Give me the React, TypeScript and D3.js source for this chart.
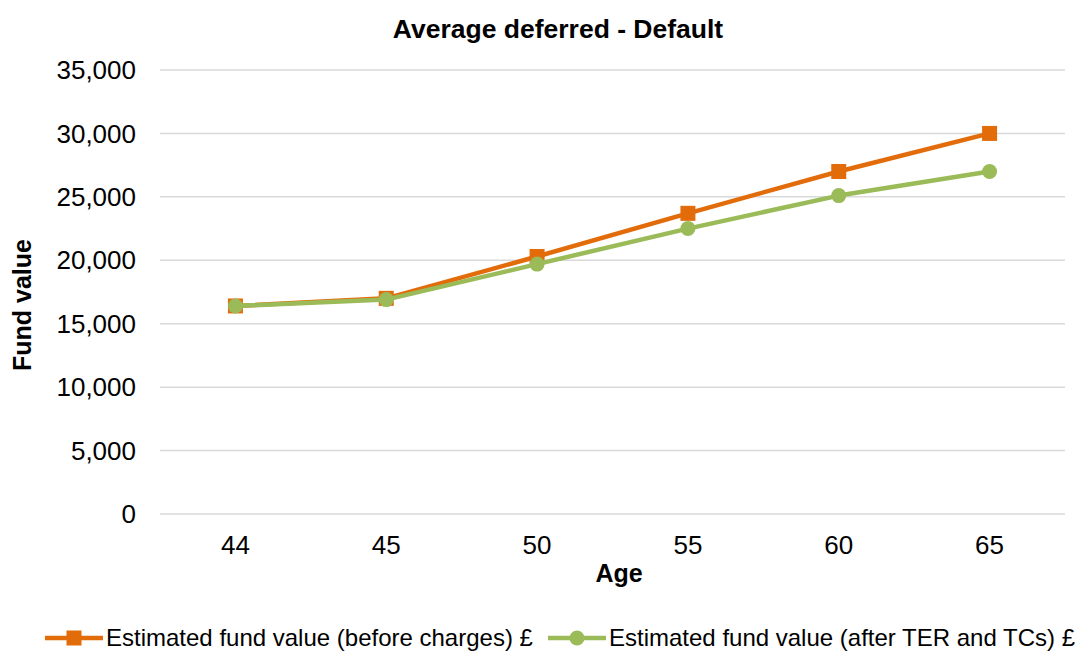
import { useEffect, useRef } from "react";
import * as d3 from "d3";

const ages = ["44", "45", "50", "55", "60", "65"];
const beforeCharges = [16400, 17000, 20300, 23700, 27000, 30000];
const afterCharges = [16400, 16900, 19700, 22500, 25100, 27000];
const yTicks = [0, 5000, 10000, 15000, 20000, 25000, 30000, 35000];

const series = [
  { name: "Estimated fund value (before charges) £", values: beforeCharges, color: "#E36C0A", marker: "square" },
  { name: "Estimated fund value (after TER and TCs) £", values: afterCharges, color: "#9BBB59", marker: "circle" },
];

export default function App() {
  const ref = useRef<SVGSVGElement>(null);

  useEffect(() => {
    const width = 1076;
    const height = 652;
    const m = { left: 160, right: 11, top: 70, bottom: 138 };

    const svg = d3.select(ref.current).attr("width", width).attr("height", height);
    svg.selectAll("*").remove();
    svg.style("font-family", "'Liberation Sans', Arial, sans-serif");

    const x = d3.scaleBand().domain(ages).range([m.left, width - m.right]);
    const y = d3.scaleLinear().domain([0, 35000]).range([height - m.bottom, m.top]);

    // gridlines
    svg
      .append("g")
      .selectAll("line")
      .data(yTicks)
      .join("line")
      .attr("x1", m.left)
      .attr("x2", width - m.right)
      .attr("y1", d => y(d))
      .attr("y2", d => y(d))
      .attr("stroke", "#d9d9d9")
      .attr("stroke-width", 1.5);

    // y labels
    svg
      .append("g")
      .selectAll("text")
      .data(yTicks)
      .join("text")
      .attr("x", 136)
      .attr("y", d => y(d))
      .attr("dy", "0.35em")
      .attr("text-anchor", "end")
      .style("font-size", "26px")
      .attr("fill", "#000")
      .text(d => d3.format(",")(d));

    // x labels
    svg
      .append("g")
      .selectAll("text")
      .data(ages)
      .join("text")
      .attr("x", d => x(d)! + x.bandwidth() / 2)
      .attr("y", 554)
      .attr("text-anchor", "middle")
      .style("font-size", "26px")
      .text(d => d);

    svg
      .append("text")
      .attr("x", 558)
      .attr("y", 38)
      .attr("text-anchor", "middle")
      .style("font-size", "26.5px")
      .style("font-weight", "bold")
      .text("Average deferred - Default");

    svg
      .append("text")
      .attr("x", 619)
      .attr("y", 582)
      .attr("text-anchor", "middle")
      .style("font-size", "25px")
      .style("font-weight", "bold")
      .text("Age");

    svg
      .append("text")
      .attr("transform", "translate(31,305) rotate(-90)")
      .attr("text-anchor", "middle")
      .style("font-size", "25px")
      .style("font-weight", "bold")
      .text("Fund value");

    const line = d3
      .line<number>()
      .x((_, i) => x(ages[i])! + x.bandwidth() / 2)
      .y(d => y(d));

    const drawMarker = (g: any, kind: string, color: string, cx: number, cy: number) => {
      if (kind === "square") {
        g.append("rect")
          .attr("x", cx - 7.5)
          .attr("y", cy - 7.5)
          .attr("width", 15)
          .attr("height", 15)
          .attr("fill", color);
      } else {
        g.append("circle").attr("cx", cx).attr("cy", cy).attr("r", 7.5).attr("fill", color);
      }
    };

    series.forEach(s => {
      const g = svg.append("g");
      g.append("path")
        .attr("d", line(s.values))
        .attr("fill", "none")
        .attr("stroke", s.color)
        .attr("stroke-width", 4.5)
        .attr("stroke-linejoin", "round");
      s.values.forEach((v, i) => {
        drawMarker(g, s.marker, s.color, x(ages[i])! + x.bandwidth() / 2, y(v));
      });
    });

    // legend
    const legendX = [45, 548];
    series.forEach((s, i) => {
      const g = svg.append("g").attr("transform", `translate(${legendX[i]},638)`);
      g.append("line")
        .attr("x1", 0)
        .attr("x2", 58)
        .attr("stroke", s.color)
        .attr("stroke-width", 4.5);
      drawMarker(g, s.marker, s.color, 29, 0);
      g.append("text")
        .attr("x", 61)
        .attr("dy", "0.35em")
        .style("font-size", "24px")
        .text(s.name);
    });
  }, []);

  return (
    <svg ref={ref} style={{ position: "absolute", left: 0, top: 0 }} />
  );
}
